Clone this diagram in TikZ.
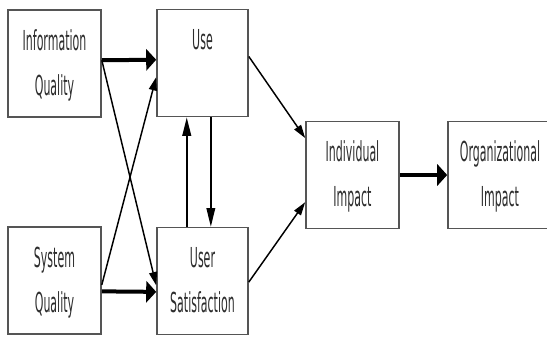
\documentclass[tikz,border=0pt]{standalone}
\usepackage{fontspec}
\usepackage{graphicx}
\usetikzlibrary{arrows.meta,calc}
\newfontfamily\boxfont{DejaVu Sans}
\newcommand{\tallText}[1]{\scalebox{1}[2.5]{\begin{tabular}{@{}c@{}}#1\end{tabular}}}
\definecolor{boxgray}{RGB}{85,85,85}
\definecolor{textgray}{RGB}{45,45,45}
\tikzset{every picture/.style={line width=0.75pt},
  factor/.style={draw=boxgray, line width=1.2pt, inner sep=0pt, minimum width=69.75pt, minimum height=80.25pt, text=textgray, font=\boxfont\fontsize{8.25}{13.5}\selectfont},
  link/.style={-{Triangle[length=10pt,width=6pt]}, line width=1.1pt},
  linkup/.style={-{Triangle[length=14pt,width=6.5pt]}, line width=1.5pt},
  flow/.style={-{Triangle[length=7.5pt,width=16pt]}, line width=3pt},
}

\begin{document}
\begin{tikzpicture}[x=0.75pt,y=0.75pt,yscale=-1,xscale=1]
\useasboundingbox (0,0) rectangle (547,337);
\fill[white] (0,0) rectangle (547,337);
\clip (0,0) rectangle (547,337);

%Boxes
\node[factor] (iq) at (54.5,63.5) {\tallText{Information\\Quality}};
\node[factor, minimum width=68.25pt] (use) at (202.5,63) {\tallText{Use\\ \mbox{}}};
\node[factor] (sq) at (54.5,280.5) {\tallText{System\\Quality}};
\node[factor, minimum width=68.25pt] (us) at (202.5,281) {\tallText{User\\Satisfaction}};
\node[factor] (ii) at (352.5,175) {\tallText{Individual\\Impact}};
\node[factor, minimum width=78pt] (oi) at (500,175) {\tallText{Organizational\\Impact}};

%Crossing links
\draw[link] ($(iq.north east)!0.47!(iq.south east)$) -- ($(us.north west)!0.54!(us.south west)$);
\draw[link] ($(sq.north east)!0.54!(sq.south east)$) -- ($(use.north west)!0.63!(use.south west)$);
%Straight flows
\draw[flow] ($(iq.north east)!0.47!(iq.south east)$) -- ($(use.north west)!0.47!(use.south west)$);
\draw[flow] ($(sq.north east)!0.6!(sq.south east)$) -- ($(us.north west)!0.6!(us.south west)$);
%Use <-> User Satisfaction
\draw[linkup] ($(us.north west)!0.33!(us.north east)$) -- ($(use.south west)!0.33!(use.south east)$);
\draw[linkup, line width=1.1pt] ($(use.south west)!0.59!(use.south east)$) -- ($(us.north west)!0.59!(us.north east)$);
%Into Individual Impact
\draw[link] ($(use.north east)!0.44!(use.south east)$) -- ($(ii.north west)!0.16!(ii.south west)$);
\draw[link] ($(us.north east)!0.51!(us.south east)$) -- ($(ii.north west)!0.75!(ii.south west)$);
\draw[flow] (ii.east) -- (oi.west);

\end{tikzpicture}
\end{document}
